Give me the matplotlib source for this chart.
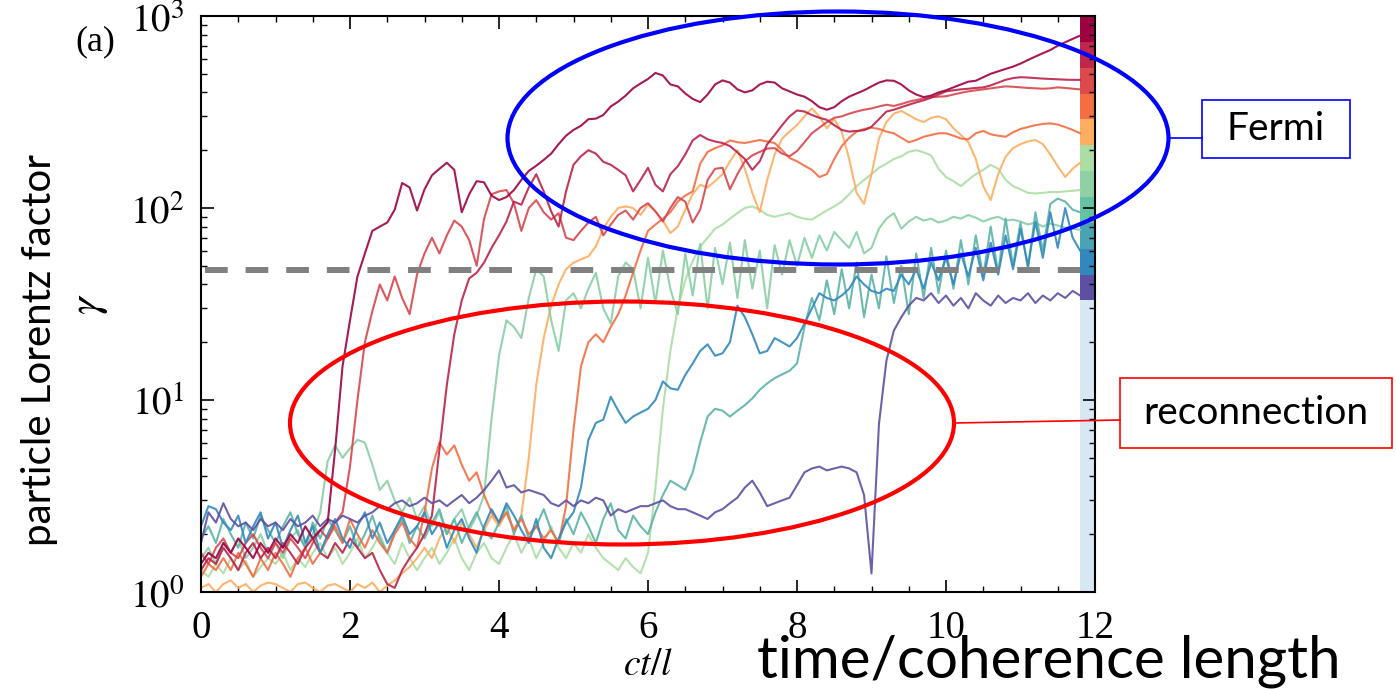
import numpy as np
import matplotlib
matplotlib.use("Agg")
import matplotlib.pyplot as plt
from matplotlib.patches import Ellipse, Rectangle
from matplotlib.lines import Line2D
from matplotlib.ticker import MultipleLocator, LogLocator, NullFormatter

plt.rcParams["mathtext.fontset"] = "stix"

# temps ct/l, un point tous les 0.1 (0 -> 11.8)
t = np.round(np.arange(0, 11.85, 0.1), 1)

# facteur de Lorentz gamma (une ligne = une unité de temps)
maroon = [
    1.4, 1.6, 1.5, 1.8, 1.6, 1.9, 1.7, 1.5, 1.8, 1.6,
    1.9, 1.7, 2.0, 1.8, 2.2, 1.9, 2.1, 2.3, 5.5, 15,
    26, 44, 58, 76, 80, 84, 98, 135, 128, 97,
    125, 148, 160, 172, 158, 95, 118, 138, 136, 116,
    110, 114, 124, 140, 156, 166, 178, 192, 215, 238,
    255, 268, 290, 292, 305, 338, 358, 385, 420, 445,
    470, 505, 490, 440, 430, 395, 370, 356, 390, 440,
    462, 450, 415, 400, 410, 440, 455, 450, 420, 405,
    390, 380, 360, 335, 325, 335, 360, 380, 395, 410,
    430, 450, 462, 460, 440, 410, 390, 378, 385, 400,
    410, 425, 440, 455, 460, 480, 500, 515, 530, 545,
    565, 590, 615, 640, 665, 700, 730, 760, 790]

crimson = [
    1.3, 1.5, 1.4, 1.7, 1.5, 1.3, 1.6, 1.8, 1.5, 1.7,
    1.5, 1.8, 1.6, 1.4, 1.7, 1.9, 1.6, 1.5, 1.8, 1.6,
    1.9, 1.7, 1.5, 1.6, 1.3, 1.1, 1.05, 1.3, 1.5, 1.7,
    2.0, 2.5, 5.5, 12, 22, 33, 43, 46, 52, 62,
    72, 85, 108, 104, 128, 150, 122, 96, 80, 122,
    168, 186, 200, 192, 174, 168, 158, 148, 122, 140,
    162, 132, 122, 150, 165, 190, 225, 240, 228, 222,
    218, 210, 195, 180, 158, 175, 215, 240, 270, 300,
    322, 318, 305, 295, 288, 270, 255, 250, 252, 254,
    265, 290, 318, 325, 335, 345, 355, 364, 375, 390,
    405, 410, 415, 418, 422, 425, 435, 450, 465, 475,
    480, 478, 475, 472, 470, 468, 466, 465, 465]

red = [
    1.6, 1.4, 1.7, 1.9, 1.6, 1.5, 1.8, 2.0, 1.7, 1.5,
    1.8, 1.6, 1.9, 1.7, 1.5, 1.8, 2.1, 1.9, 2.3, 2.6,
    4.5, 10, 20, 29, 40, 33, 44, 34, 28, 45,
    58, 70, 58, 72, 86, 80, 68, 50, 88, 118,
    122, 124, 106, 76, 100, 110, 95, 87, 94, 70,
    68, 76, 84, 90, 72, 82, 92, 97, 87, 100,
    106, 96, 85, 100, 114, 108, 84, 98, 140, 160,
    162, 125, 150, 175, 188, 196, 204, 205, 192, 186,
    198, 220, 245, 262, 280, 295, 300, 310, 318, 325,
    330, 338, 345, 340, 348, 358, 365, 372, 378, 380,
    382, 390, 398, 405, 410, 415, 420, 425, 430, 428,
    425, 422, 420, 418, 420, 425, 422, 418, 415]

orange_red = [
    1.2, 1.4, 1.3, 1.5, 1.3, 1.6, 1.4, 1.2, 1.5, 1.3,
    1.6, 1.4, 1.2, 1.5, 1.7, 1.4, 1.6, 1.9, 2.2, 1.8,
    2.4, 2.0, 1.7, 2.1, 1.8, 1.6, 2.0, 2.3, 1.9, 1.7,
    2.6, 4.4, 6.0, 5.2, 5.8, 4.6, 3.8, 4.2, 3.2, 2.6,
    2.3, 2.6, 2.1, 2.4, 2.0, 2.2, 1.9, 2.1, 1.8, 2.8,
    7, 15, 20, 22, 20, 24, 28, 35, 46, 60,
    76, 82, 88, 95, 108, 116, 122, 170, 196, 205,
    212, 225, 220, 218, 222, 226, 222, 218, 200, 182,
    175, 166, 158, 145, 150, 180, 210, 232, 250, 258,
    262, 258, 250, 245, 232, 220, 226, 235, 240, 245,
    245, 238, 230, 228, 245, 252, 242, 238, 235, 248,
    258, 264, 270, 274, 276, 272, 264, 255, 245]

orange = [
    1.05, 1.1, 1.0, 1.1, 1.15, 1.05, 1.1, 1.0, 1.08, 1.12,
    1.1, 1.05, 1.0, 1.1, 1.12, 1.05, 1.0, 1.08, 1.1, 1.05,
    1.0, 1.1, 1.05, 1.12, 1.0, 1.08, 1.15, 1.25, 1.35, 1.5,
    1.7, 1.5, 1.9, 2.2, 1.8, 2.3, 2.0, 1.7, 2.1, 2.5,
    2.2, 2.6, 2.1, 2.5, 5.0, 12, 21, 31, 40, 48,
    52, 54, 56, 63, 78, 90, 100, 102, 100, 92,
    104, 96, 86, 74, 80, 98, 118, 132, 128, 138,
    150, 175, 200, 160, 120, 95, 140, 190, 230, 250,
    270, 300, 330, 300, 260, 290, 250, 180, 120, 105,
    150, 230, 280, 310, 320, 305, 290, 280, 295, 300,
    290, 260, 240, 220, 180, 130, 110, 150, 185, 205,
    215, 222, 226, 215, 190, 165, 145, 160, 172]

light_green = [
    1.3, 1.2, 1.4, 1.25, 1.5, 1.3, 1.45, 1.2, 1.35, 1.5,
    1.4, 1.6, 1.3, 1.5, 1.35, 1.6, 1.8, 1.5, 1.7, 1.4,
    1.6, 1.9, 1.5, 1.7, 2.0, 1.6, 1.4, 1.8, 1.5, 1.3,
    1.5, 1.7, 1.4, 1.6, 1.9, 1.5, 1.3, 1.6, 1.8, 1.5,
    1.4, 1.7, 2.0, 1.6, 1.9, 1.5, 1.8, 2.2, 1.7, 1.5,
    1.8, 1.6, 2.0, 1.7, 1.5, 1.4, 1.3, 1.5, 1.35, 1.25,
    1.6, 3.5, 9, 18, 30, 42, 53, 63, 70, 78,
    82, 88, 94, 100, 102, 98, 92, 90, 92, 94,
    90, 88, 87, 92, 97, 102, 108, 118, 130, 140,
    150, 162, 170, 180, 186, 196, 200, 195, 188, 160,
    145, 138, 130, 140, 150, 158, 168, 160, 140, 130,
    125, 120, 119, 120, 121, 121, 122, 123, 124]

green = [
    1.5, 1.7, 1.4, 1.8, 1.6, 1.9, 1.5, 1.7, 2.0, 1.6,
    1.8, 1.5, 1.9, 2.1, 1.7, 2.0, 2.6, 4.8, 5.8, 5.0,
    5.6, 6.2, 6.0, 4.6, 3.4, 3.8, 3.0, 2.6, 3.1, 2.4,
    2.8, 2.2, 2.6, 2.0, 2.4, 2.7, 2.1, 2.5, 3.2, 8.0,
    17, 26, 24, 21, 34, 48, 44, 26, 18, 33,
    36, 30, 38, 46, 30, 25, 44, 52, 48, 30,
    55, 32, 60, 38, 28, 58, 35, 65, 30, 62,
    40, 66, 34, 68, 38, 60, 30, 64, 45, 68,
    50, 70, 55, 72, 60, 75, 68, 62, 75, 58,
    62, 78, 88, 94, 78, 85, 90, 86, 88, 84,
    86, 90, 88, 92, 89, 85, 88, 90, 86, 87,
    85, 82, 84, 80, 83, 81, 79, 78, 77]

teal = [
    1.9, 2.2, 1.8, 2.4, 2.0, 1.7, 2.3, 1.9, 2.5, 2.1,
    1.8, 2.2, 2.6, 2.0, 1.7, 2.3, 1.9, 2.4, 2.1, 1.8,
    2.2, 1.7, 2.0, 2.5, 1.9, 1.6, 2.1, 2.4, 1.8, 2.2,
    1.9, 2.3, 2.7, 2.0, 2.4, 1.8, 2.2, 2.6, 2.1, 1.9,
    2.3, 2.8, 2.0, 2.5, 1.9, 2.2, 2.7, 2.1, 1.8, 2.4,
    2.0, 2.6, 2.2, 1.8, 2.4, 2.9, 2.1, 1.9, 2.5, 2.2,
    2.0, 2.6, 3.2, 3.8, 3.6, 3.4, 4.2, 6.0, 8.2, 9.0,
    8.8, 8.2, 8.8, 9.4, 10.2, 11.3, 12.2, 13.0, 13.6, 14.2,
    15.5, 24, 34, 26, 42, 28, 48, 30, 52, 27,
    45, 30, 56, 32, 50, 28, 58, 34, 62, 36,
    60, 38, 68, 40, 72, 44, 80, 46, 88, 50,
    84, 48, 95, 60, 105, 112, 108, 98, 95]

blue = [
    2.2, 2.8, 2.7, 2.3, 2.1, 2.5, 1.8, 2.2, 2.6, 1.9,
    2.3, 1.7, 2.1, 2.5, 1.8, 2.2, 1.6, 2.0, 2.4, 1.9,
    1.7, 2.2, 2.6, 1.9, 2.3, 1.8, 2.1, 2.5, 2.0, 2.2,
    2.6, 2.0, 2.3, 1.7, 2.1, 2.4, 1.9, 1.6, 2.2, 2.7,
    2.3, 2.9, 2.5, 2.1, 1.8, 2.4, 1.7, 1.5, 1.9, 2.3,
    2.6, 3.5, 6.2, 7.6, 7.9, 10.4, 8.8, 7.6, 8.2, 8.6,
    9.0, 10, 12.5, 11.5, 11.3, 13.5, 15.5, 18, 19.5, 17,
    17.5, 20, 31, 27, 22, 17.5, 18, 21, 20, 19,
    21, 25, 30, 36, 34, 33, 35, 38, 44, 40,
    37, 36, 38, 37, 45, 40, 48, 38, 52, 42,
    55, 40, 58, 44, 62, 42, 66, 45, 72, 48,
    78, 50, 85, 55, 95, 62, 100, 70, 60]

purple = [
    1.8, 2.6, 2.3, 2.9, 2.4, 2.2, 2.3, 2.1, 2.4, 2.2,
    2.3, 2.1, 2.4, 2.2, 2.3, 2.5, 2.2, 2.4, 2.3, 2.5,
    2.4, 2.3, 2.5, 2.6, 2.8, 2.7, 2.9, 3.0, 2.8, 2.9,
    3.1, 2.9, 3.0, 2.8, 3.0, 3.2, 2.9, 3.1, 3.4, 3.8,
    4.3, 3.5, 3.6, 3.3, 3.4, 3.3, 3.2, 2.9, 2.8, 3.0,
    2.8, 3.0, 2.9, 3.1, 3.0, 2.5, 2.7, 2.6, 2.7, 2.8,
    2.8, 2.9, 3.0, 2.8, 2.7, 2.7, 2.6, 2.5, 2.4, 2.6,
    2.7, 2.9, 3.1, 3.5, 3.8, 3.3, 2.8, 2.9, 3.0, 3.1,
    3.6, 4.2, 4.4, 4.5, 4.3, 4.4, 4.5, 4.4, 4.2, 3.2,
    1.25, 7.5, 16, 23, 27, 31, 34, 33, 36, 32,
    35, 31, 34, 30, 36, 33, 31, 35, 32, 34,
    33, 36, 32, 35, 33, 36, 34, 37, 35]

series = [
    (light_green, "#abdda4"),
    (orange, "#fdae61"),
    (green, "#88cfa4"),
    (teal, "#5bb3a8"),
    (orange_red, "#f46d43"),
    (red, "#d8464d"),
    (crimson, "#bb2249"),
    (blue, "#3288bd"),
    (purple, "#5e4fa2"),
    (maroon, "#9e0142"),
]

seuil = 47.5  # ligne pointillée
cbar_colors = ["#9e0142", "#c0274a", "#dc4b4a", "#f46d43", "#fdae61", "#abdda4",
               "#8fd1a4", "#66c2a5", "#4aa3b3", "#3288bd", "#5e4fa2"]

W, H = 1396, 689
fig = plt.figure(figsize=(W / 100, H / 100), dpi=100)
ax = fig.add_axes([201 / W, 1 - 592 / H, (1095 - 201) / W, (592 - 16) / H])
ax.set_yscale("log")
ax.set_xlim(0, 12)
ax.set_ylim(1, 1000)

for g, c in series:
    assert len(g) == len(t)
    ax.plot(t, g, color=c, lw=1.5, alpha=0.9, zorder=2)

ax.plot([0.05, 11.8], [seuil, seuil], color="#808080", lw=4.3, dashes=(3.8, 3.0), zorder=3)

# barre de couleur collée au bord droit
edges = np.logspace(3, np.log10(33), len(cbar_colors) + 1)
for k, c in enumerate(cbar_colors):
    ax.fill_between([11.8, 12], edges[k + 1], edges[k], color=c, lw=0, zorder=1)
ax.fill_between([11.8, 12], 1, edges[-1], color="#d6e9f2", lw=0, zorder=1)

ax.xaxis.set_major_locator(MultipleLocator(2))
ax.xaxis.set_minor_locator(MultipleLocator(0.5))
ax.set_yticks([1, 10, 100, 1000])
ax.set_yticklabels([r"$10^{0}$", r"$10^{1}$", r"$10^{2}$", r"$10^{3}$"])
ax.yaxis.set_minor_locator(LogLocator(base=10, subs=np.arange(2, 10)))
ax.yaxis.set_minor_formatter(NullFormatter())
ax.tick_params(which="both", direction="in", top=True, right=True)
ax.tick_params(which="major", length=9, width=1.2, labelsize=28)
ax.tick_params(which="minor", length=4.5, width=1.0)
ax.tick_params(axis="x", pad=13)
ax.tick_params(axis="y", pad=12)
for lab in ax.get_xticklabels():
    lab.set_family("Liberation Serif")
for sp in ax.spines.values():
    sp.set_linewidth(1.5)

ax.set_xlabel(r"$ct/l$", fontsize=27, labelpad=0)
ax.set_ylabel(r"$\gamma$", fontsize=32, labelpad=14)

fig.text(95 / W, 1 - 42 / H, "(a)", family="Liberation Serif", fontsize=26, ha="center", va="center")
fig.text(757 / W, 1 - 677 / H, "time/coherence length", family="Lato", fontsize=42,
         ha="left", va="baseline")
fig.text(40 / W, 1 - 350 / H, "particle Lorentz factor", family="Lato", fontsize=29,
         rotation=90, ha="center", va="center")

# annotations
fig.add_artist(Ellipse((838 / W, 1 - 138 / H), 661 / W, 253 / H, transform=fig.transFigure,
                       fill=False, ec="#0000ff", lw=3))
fig.add_artist(Line2D([1168 / W, 1202 / W], [1 - 138 / H, 1 - 138 / H], transform=fig.transFigure,
                      color="#0000ff", lw=1.2))
fig.add_artist(Rectangle((1202 / W, 1 - 158 / H), 148 / W, 58 / H, transform=fig.transFigure,
                         fill=False, ec="#0000ff", lw=1.2))
fig.text(1276 / W, 1 - 129 / H, "Fermi", family="Lato", fontsize=28, ha="center", va="center")

fig.add_artist(Ellipse((622 / W, 1 - 423 / H), 664 / W, 243 / H, transform=fig.transFigure,
                       fill=False, ec="#ff0000", lw=3))
fig.add_artist(Line2D([954 / W, 1120 / W], [1 - 423 / H, 1 - 420 / H], transform=fig.transFigure,
                      color="#ff0000", lw=1.2))
fig.add_artist(Rectangle((1120 / W, 1 - 448 / H), 272 / W, 70 / H, transform=fig.transFigure,
                         fill=False, ec="#ff0000", lw=1.2))
fig.text(1256 / W, 1 - 413 / H, "reconnection", family="Lato", fontsize=28, ha="center", va="center")

fig.savefig("out.png", dpi=100)
